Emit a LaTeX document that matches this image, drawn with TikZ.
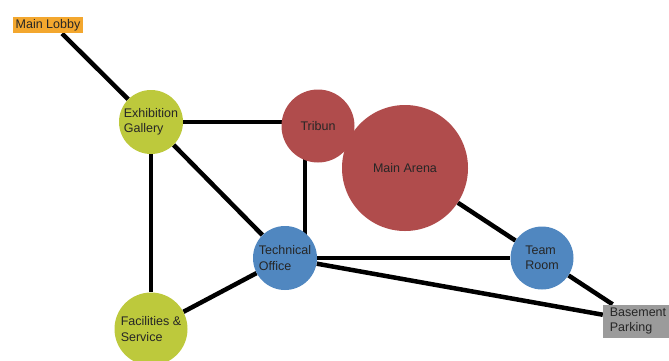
\documentclass[tikz,border=0pt]{standalone}
\usepackage{fontspec}
\setmainfont{Liberation Sans}
\usetikzlibrary{backgrounds}
\definecolor{lobbyorange}{RGB}{243,167,46}
\definecolor{areagreen}{RGB}{189,201,60}
\definecolor{areared}{RGB}{176,76,76}
\definecolor{areablue}{RGB}{80,135,192}
\definecolor{parkgray}{RGB}{155,155,155}

\begin{document}
\begin{tikzpicture}[x=1pt,y=-1pt,
    font=\fontsize{12.5}{15.5}\selectfont,
    room/.style={circle,inner sep=0pt,align=left,text=black!85},
    zone/.style={rectangle,inner sep=2.5pt,align=left,text=black!85},
    link/.style={line width=4.5pt,black}
]
\useasboundingbox (0,0) rectangle (669,360);

\node[zone,fill=lobbyorange] (lobby) at (48,25) {Main Lobby};
\node[room,fill=areagreen,minimum size=64pt] (gallery) at (151,122) {Exhibition\\Gallery};
\node[room,fill=areared,minimum size=73pt] (tribun) at (318,126) {Tribun};
\node[room,fill=areared,minimum size=126pt] (arena) at (405,168) {Main Arena};
\node[room,fill=areablue,minimum size=64pt] (tech) at (285,258) {Technical\\Office};
\node[room,fill=areablue,minimum size=63pt] (team) at (542,258) {Team\\Room};
\node[room,fill=areagreen,minimum size=73pt] (fac) at (151,329) {Facilities \&\\Service};
\node[zone,fill=parkgray,minimum height=33pt,minimum width=70pt] (park) at (638,321) {Basement\\Parking};

% connections go under the rooms
\begin{scope}[on background layer]
\draw[link] ([xshift=14pt]lobby.south) -- (gallery);
\draw[link] (gallery.center) -- (tribun.center |- gallery.center);
\draw[link] (gallery) -- (fac);
\draw[link] (gallery) -- (tech);
\draw[link] ([xshift=20pt]tech.center) -- ([xshift=-13pt]tribun.center);
\draw[link] (arena) -- (team);
\draw[link] (tech) -- (team);
\draw[link] (tech) -- (park);
\draw[link] (team) -- (park);
\draw[link] (fac) -- (tech);
\end{scope}
\end{tikzpicture}
\end{document}
